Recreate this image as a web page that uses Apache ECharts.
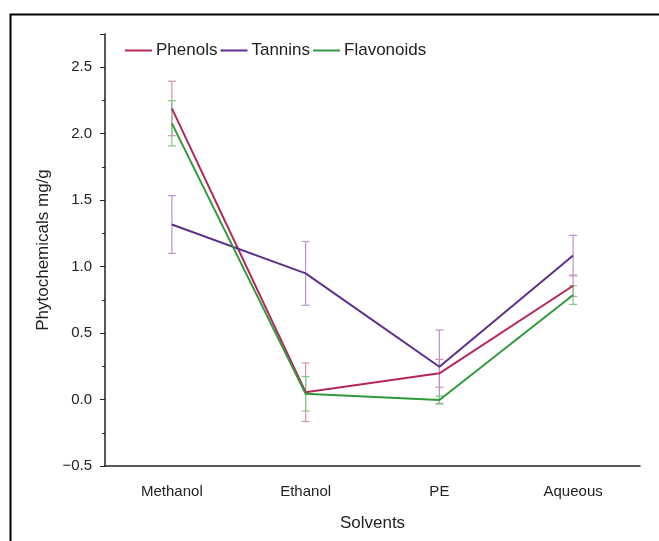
<!DOCTYPE html>
<html>
<head>
    <meta charset="utf-8">
    <title>Phytochemicals</title>
    <script src="https://cdn.jsdelivr.net/npm/echarts@6/dist/echarts.min.js"></script>
    <style>
        html, body { margin: 0; padding: 0; background: #fff; }
        #chart { width: 659px; height: 541px; }
    </style>
</head>
<body>
<div id="chart"></div>
<script type="text/javascript">
    // data
    var solvents = ['Methanol', 'Ethanol', 'PE', 'Aqueous'];
    var phenols = [2.19, 0.055, 0.197, 0.856];
    var phenolsErr = [0.205, 0.22, 0.105, 0.08];
    var tannins = [1.317, 0.949, 0.247, 1.083];
    var tanninsErr = [0.217, 0.24, 0.276, 0.152];
    var flavonoids = [2.078, 0.043, -0.004, 0.786];
    var flavonoidsErr = [0.17, 0.13, 0.03, 0.07];

    var lineColors = ['#b5275c', '#5d2e8c', '#2f9a3c'];
    var barColors = ['#d98fb0', '#b993cc', '#80c985'];

    function errData(vals, errs) {
        var out = [];
        for (var i = 0; i < vals.length; i++) {
            out.push([i, vals[i] - errs[i], vals[i] + errs[i]]);
        }
        return out;
    }

    function errSeries(name, vals, errs, color) {
        return {
            name: name,
            type: 'custom',
            z: 1,
            silent: true,
            data: errData(vals, errs),
            renderItem: function (params, api) {
                var lo = api.coord([api.value(0), api.value(1)]);
                var hi = api.coord([api.value(0), api.value(2)]);
                var w = 4;
                var st = { stroke: color, lineWidth: 1.2 };
                return {
                    type: 'group',
                    children: [
                        { type: 'line', shape: { x1: lo[0], y1: lo[1], x2: hi[0], y2: hi[1] }, style: st },
                        { type: 'line', shape: { x1: lo[0] - w, y1: lo[1], x2: lo[0] + w, y2: lo[1] }, style: st },
                        { type: 'line', shape: { x1: hi[0] - w, y1: hi[1], x2: hi[0] + w, y2: hi[1] }, style: st }
                    ]
                };
            }
        };
    }

    function lineSeries(name, vals, color) {
        return {
            name: name,
            type: 'line',
            z: 3,
            symbol: 'none',
            data: vals,
            lineStyle: { color: color, width: 2 },
            itemStyle: { color: color }
        };
    }

    var myChart = echarts.init(document.getElementById('chart'));
    var fontFam = 'Liberation Sans, Arial, sans-serif';

    myChart.setOption({
        animation: false,
        backgroundColor: '#fff',
        textStyle: { fontFamily: fontFam },
        graphic: [{
            type: 'rect',
            left: 8, top: 12,
            shape: { width: 700, height: 600 },
            style: { fill: 'none', stroke: '#000', lineWidth: 2 }
        }],
        legend: {
            data: ['Phenols', 'Tannins', 'Flavonoids'],
            left: 120,
            top: 37,
            itemGap: 3,
            itemWidth: 27,
            itemHeight: 2,
            icon: 'rect',
            textStyle: { fontSize: 17, color: '#222', fontFamily: fontFam, padding: [0, 0, 0, -1] }
        },
        grid: { left: 105, right: 19, top: 34, bottom: 75 },
        xAxis: [{
            type: 'category',
            data: solvents,
            boundaryGap: true,
            name: 'Solvents',
            nameLocation: 'middle',
            nameGap: 49,
            nameTextStyle: { fontSize: 17, color: '#222' },
            axisLine: { onZero: false, lineStyle: { color: '#222', width: 1.5 } },
            axisTick: { alignWithLabel: true, length: 5, lineStyle: { color: '#222' } },
            axisLabel: { fontSize: 15, color: '#222', margin: 18 }
        }, {
            type: 'category',
            data: solvents,
            boundaryGap: true,
            position: 'bottom',
            axisLine: { show: false, onZero: false },
            axisTick: { length: 4, lineStyle: { color: '#222' } },
            axisLabel: { show: false }
        }],
        yAxis: {
            type: 'value',
            min: -0.5,
            max: 2.75,
            interval: 0.5,
            name: 'Phytochemicals mg/g',
            nameLocation: 'middle',
            nameGap: 47,
            nameTextStyle: { fontSize: 17, color: '#222' },
            splitLine: { show: false },
            axisLine: { show: true, lineStyle: { color: '#222', width: 1.5 } },
            axisTick: { show: true, length: 5, lineStyle: { color: '#222' } },
            minorTick: { show: true, splitNumber: 2, length: 3, lineStyle: { color: '#222' } },
            axisLabel: {
                fontSize: 15, color: '#222', margin: 13, showMaxLabel: false,
                formatter: function (v) { return v < 0 ? '\u2212' + Math.abs(v).toFixed(1) : v.toFixed(1); }
            }
        },
        series: [
            errSeries('PhenolsErr', phenols, phenolsErr, barColors[0]),
            errSeries('TanninsErr', tannins, tanninsErr, barColors[1]),
            errSeries('FlavonoidsErr', flavonoids, flavonoidsErr, barColors[2]),
            lineSeries('Phenols', phenols, lineColors[0]),
            lineSeries('Tannins', tannins, lineColors[1]),
            lineSeries('Flavonoids', flavonoids, lineColors[2])
        ]
    });
</script>
</body>
</html>
